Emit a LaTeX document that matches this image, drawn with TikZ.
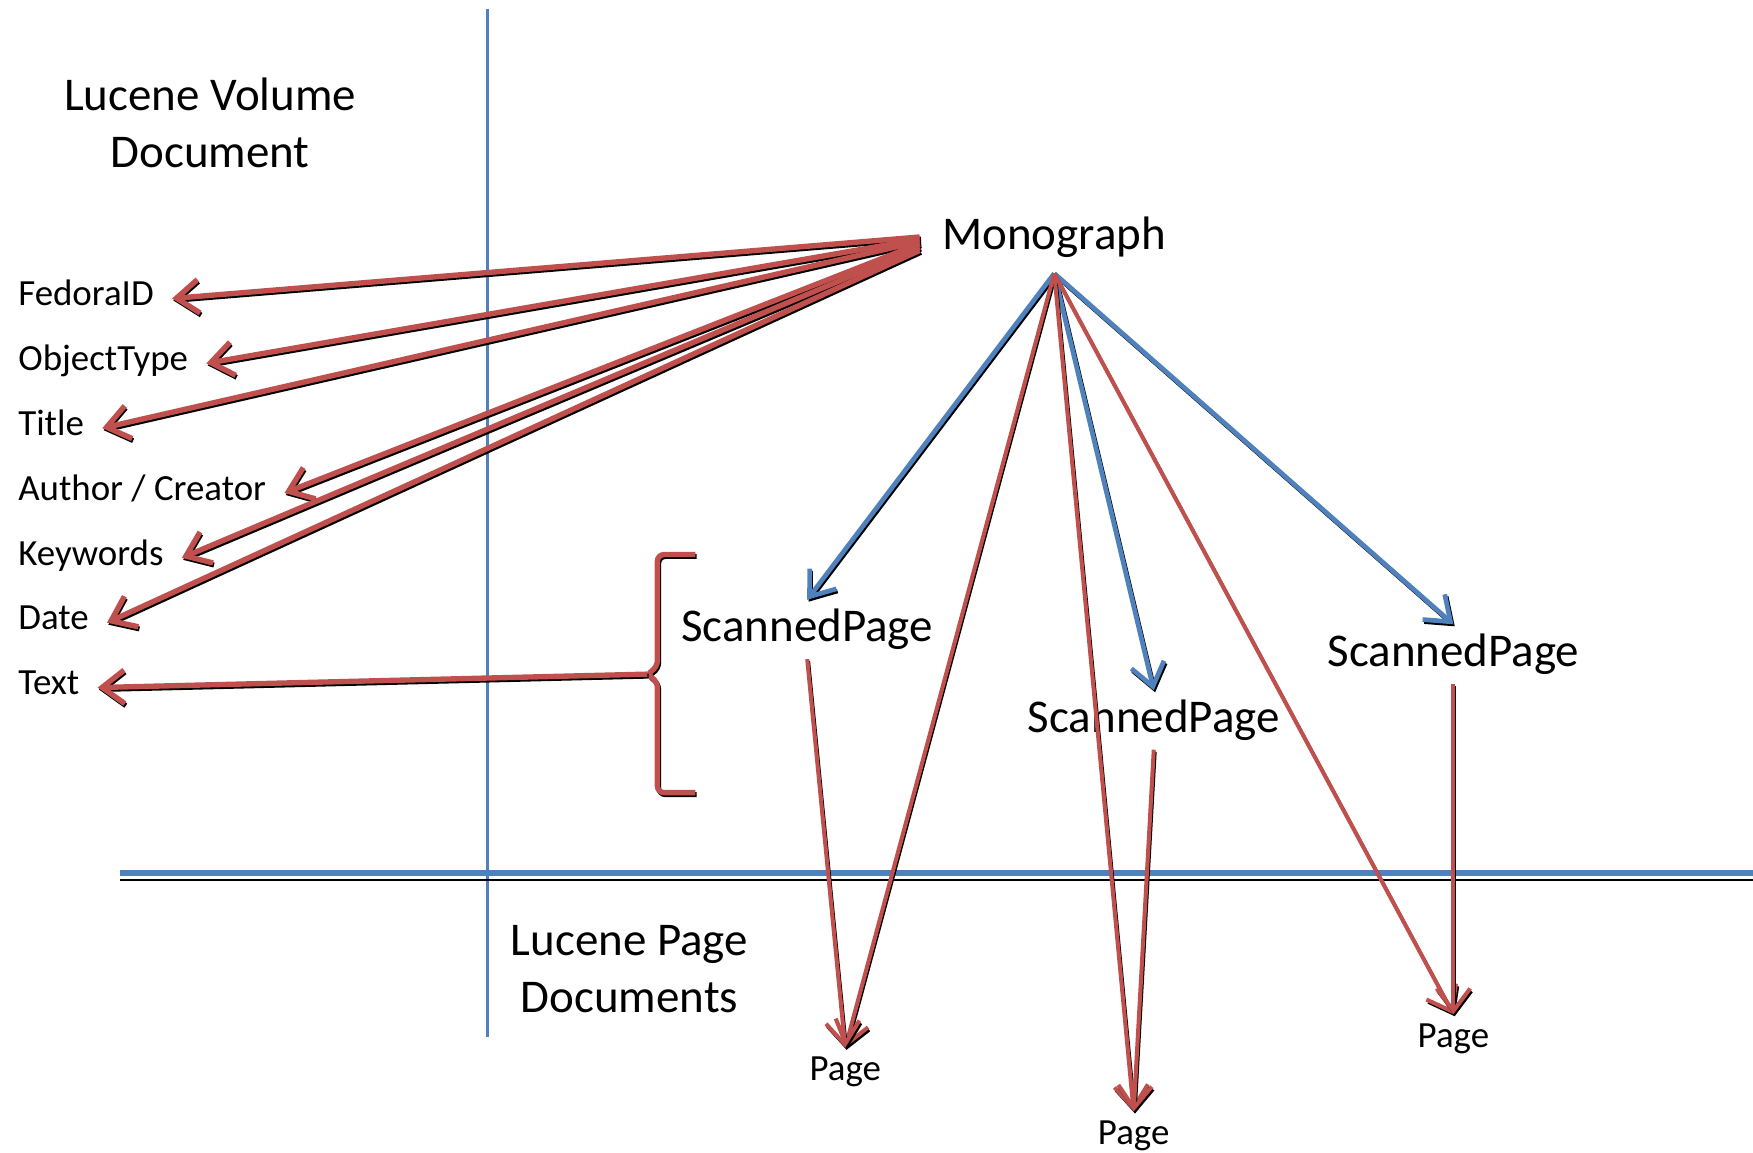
\documentclass[tikz,border=0pt]{standalone}
\usepackage{fontspec}
\setmainfont{Carlito}
\usetikzlibrary{arrows.meta}

\definecolor{pptred}{HTML}{C0504D}
\definecolor{pptblue}{HTML}{4F81BD}

\tikzset{
  shadowed/.style={preaction={draw=black, line width=#1, transform canvas={shift={(0.6pt,-0.9pt)}}}},
  shadowed/.default=2pt,
  barb/.style={-{Straight Barb[length=10pt,width=15pt]}},
  bigtext/.style={font=\fontsize{21}{25.5}\selectfont, inner sep=4pt},
  smalltext/.style={font=\fontsize{16.5}{20}\selectfont, inner sep=4pt},
  field/.style={smalltext, anchor=west, inner xsep=8pt, text height=0.64em, text depth=0pt},
  fieldarrow/.style={draw=pptred, line width=2.4pt, shadowed=2.2pt, barb},
  bluearrow/.style={draw=pptblue, line width=2.1pt, shadowed=1.9pt, barb},
  pagearrow/.style={draw=pptred, line width=1.8pt, shadowed=1.4pt, barb},
  bracket/.style={draw=pptred, line width=2.4pt, shadowed=2.2pt, rounded corners=3pt},
  axis/.style={draw=pptblue, line width=1.6pt}
}

\begin{document}
\begin{tikzpicture}[x=0.5pt, y=-0.5pt]
    % cadre de la figure
    \useasboundingbox (0,0) rectangle (1568,1031);

    % les deux axes
    \draw[axis] (436,8) -- (436,928);
    \draw[black, line width=0.6pt] (107,787) -- (1568,787);
    \draw[axis, line width=2.6pt] (107,781) -- (1568,781);

    % titres des zones
    \node[bigtext, align=center] (vol) at (188,110) {Lucene Volume\\Document};
    \node[bigtext, align=center] (pagedocs) at (563,867) {Lucene Page\\Documents};

    % champs du document
    \node[field] (fid) at (0,267) {FedoraID};
    \node[field] (otype) at (0,325) {ObjectType};
    \node[field] (title) at (0,383) {Title};
    \node[field] (author) at (0,441) {Author / Creator};
    \node[field] (kw) at (0,499) {Keywords};
    \node[field] (date) at (0,557) {Date};
    \node[field] (txt) at (0,615) {Text};

    % objets
    \node[bigtext, inner xsep=10pt, inner ysep=7pt] (mono) at (943,212) {Monograph};
    \node[bigtext] (sp1) at (722,563) {ScannedPage};
    \node[bigtext] (sp2) at (1032,644) {ScannedPage};
    \node[bigtext] (sp3) at (1300,585) {ScannedPage};
    \node[smalltext] (pg1) at (756,959) {Page};
    \node[smalltext] (pg2) at (1014,1016) {Page};
    \node[smalltext] (pg3) at (1300,929) {Page};

    % accolade du texte
    \draw[bracket] (622,496) -- (588,496) -- (588,597) -- (578,603) -- (588,609) -- (588,709) -- (622,709);
    \coordinate (brace) at (579,603);
    \draw[fieldarrow] (brace) -- (txt.east);

    % champs venant de la monographie
    \foreach \f/\k in {fid/0, otype/1, title/2, author/3, kw/4.5, date/6}
        \draw[fieldarrow] ([yshift=-\k pt]mono.west) -- (\f.east);

    % pages scannees
    \draw[bluearrow] (mono.south) -- (sp1.north);
    \draw[bluearrow] (mono.south) -- (sp2.north);
    \draw[bluearrow] (mono.south) -- (sp3.north);

    % pages lucene
    \draw[pagearrow] (mono.south) -- (pg1.north);
    \draw[pagearrow] (mono.south) -- (pg2.north);
    \draw[pagearrow] (mono.south) -- (pg3.north);
    \draw[pagearrow] (sp1.south) -- (pg1.north);
    \draw[pagearrow] (sp2.south) -- (pg2.north);
    \draw[pagearrow] (sp3.south) -- (pg3.north);
\end{tikzpicture}
\end{document}
